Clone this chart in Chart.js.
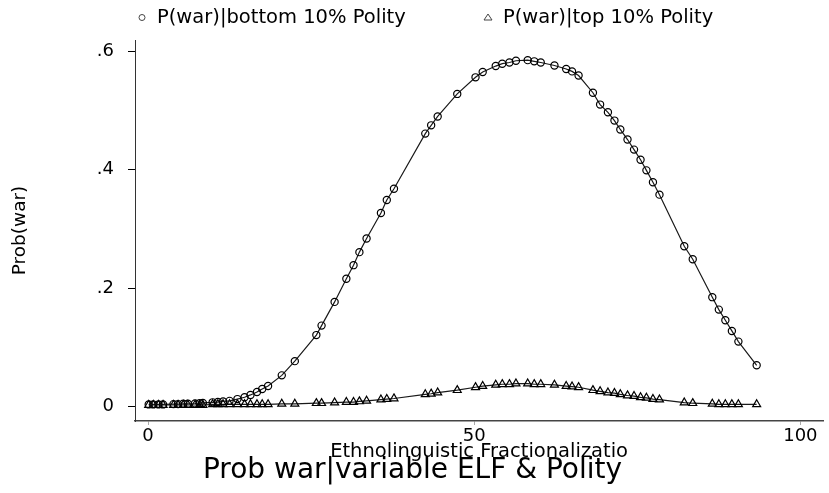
<!DOCTYPE html>
<html>
<head>
<meta charset="utf-8">
<title>Prob war|variable ELF &amp; Polity</title>
<script src="https://cdn.jsdelivr.net/npm/chart.js@4.4.1/dist/chart.umd.min.js"></script>
<style>
  html, body { margin: 0; padding: 0; background: #fff; }
  #wrap { width: 829px; height: 493px; }
</style>
</head>
<body>
<div id="wrap"><canvas id="warChart" width="829" height="493"></canvas></div>
<script>
// ELF value of each observation (shared by both series)
const elf = [0.1, 0.8, 1.6, 2.3, 3.9, 4.6, 5.4, 6.1, 7.2, 7.9, 8.4, 9.9, 10.7, 11.5, 12.5,
  13.7, 14.8, 15.7, 16.7, 17.5, 18.4,
  20.5, 22.5, 25.8, 26.6, 28.6, 30.4, 31.5, 32.4, 33.5, 35.7, 36.6, 37.7,
  42.5, 43.4, 44.4, 47.4, 50.2, 51.3,
  53.3, 54.3, 55.4, 56.4, 58.2, 59.2, 60.2,
  62.3, 64.1, 65.0, 66.0,
  68.2, 69.3, 70.5, 71.5, 72.4, 73.5, 74.5, 75.5, 76.4, 77.4, 78.4,
  82.2, 83.5,
  86.5, 87.5, 88.5, 89.5, 90.5,
  93.3];

// P(war) | bottom 10% Polity  (circles)
const pBottom = [0.004, 0.004, 0.004, 0.004, 0.0045, 0.0045, 0.005, 0.005, 0.0055, 0.006, 0.0065, 0.0075, 0.008, 0.009, 0.010,
  0.013, 0.016, 0.020, 0.025, 0.030, 0.035,
  0.053, 0.077, 0.121, 0.137, 0.177, 0.216, 0.239, 0.261, 0.284, 0.327, 0.349, 0.368,
  0.461, 0.475, 0.490, 0.528, 0.556, 0.565,
  0.575, 0.579, 0.581, 0.584, 0.585, 0.583, 0.581,
  0.576, 0.570, 0.566, 0.559,
  0.530, 0.510, 0.497, 0.483, 0.468, 0.451, 0.434, 0.417, 0.399, 0.379, 0.358,
  0.271, 0.249,
  0.185, 0.164, 0.146, 0.128, 0.110,
  0.070];

// P(war) | top 10% Polity  (triangles)
const pTop = [0.003, 0.003, 0.003, 0.003, 0.003, 0.003, 0.003, 0.003, 0.003, 0.003, 0.003, 0.004, 0.004, 0.004, 0.004,
  0.004, 0.004, 0.004, 0.004, 0.004, 0.004,
  0.005, 0.005, 0.006, 0.006, 0.007, 0.008, 0.008, 0.009, 0.010, 0.012, 0.013, 0.014,
  0.021, 0.022, 0.024, 0.028, 0.033, 0.035,
  0.037, 0.038, 0.038, 0.039, 0.039, 0.038, 0.038,
  0.037, 0.035, 0.034, 0.033,
  0.028, 0.026, 0.024, 0.023, 0.021, 0.019, 0.018, 0.016, 0.015, 0.013, 0.012,
  0.007, 0.006,
  0.005, 0.004, 0.004, 0.004, 0.004,
  0.004];

const xTicks = [0, 50, 100];
const yTicks = [0, 0.2, 0.4, 0.6];
const yTickLabels = ['0', '.2', '.4', '.6'];
const seriesNames = ['P(war)|bottom 10% Polity', 'P(war)|top 10% Polity'];

const fontFamily = 'DejaVu Sans';
const ink = '#000';

const toPoints = ys => elf.map((x, i) => ({ x: x, y: ys[i] }));

// legend sits across the top, Stata style
const topLegend = {
  id: 'topLegend',
  afterDraw(chart) {
    const ctx = chart.ctx;
    const y = 17.5;
    ctx.save();
    ctx.font = '19.5px "' + fontFamily + '"';
    ctx.fillStyle = ink;
    ctx.strokeStyle = '#444';
    ctx.lineWidth = 1;
    ctx.textBaseline = 'middle';

    ctx.beginPath();
    ctx.arc(142, y, 3, 0, Math.PI * 2);
    ctx.stroke();
    ctx.fillText(seriesNames[0], 157, y);

    ctx.beginPath();
    ctx.moveTo(488, y - 3.5);
    ctx.lineTo(484, y + 2.5);
    ctx.lineTo(492, y + 2.5);
    ctx.closePath();
    ctx.stroke();
    ctx.fillText(seriesNames[1], 503, y);
    ctx.restore();
  }
};

new Chart(document.getElementById('warChart'), {
  type: 'scatter',
  data: {
    datasets: [
      {
        label: seriesNames[0],
        data: toPoints(pBottom),
        showLine: true,
        borderColor: '#1a1a1a',
        borderWidth: 1.2,
        pointStyle: 'circle',
        pointRadius: 3.6,
        pointBorderColor: ink,
        pointBackgroundColor: 'rgba(255,255,255,0)',
        pointBorderWidth: 1.2
      },
      {
        label: seriesNames[1],
        data: toPoints(pTop),
        showLine: true,
        borderColor: '#1a1a1a',
        borderWidth: 1.2,
        pointStyle: 'triangle',
        pointRadius: 4.6,
        pointBorderColor: ink,
        pointBackgroundColor: 'rgba(255,255,255,0)',
        pointBorderWidth: 1.2
      }
    ]
  },
  options: {
    responsive: false,
    animation: false,
    layout: { padding: { top: 40, right: 4, left: 0, bottom: 0 } },
    plugins: {
      legend: { display: false },
      tooltip: { enabled: false },
      title: {
        display: true,
        position: 'bottom',
        text: 'Prob war|variable ELF & Polity',
        color: ink,
        font: { family: fontFamily, size: 28, weight: 'normal', lineHeight: 0.5 },
        padding: { top: 7, bottom: 15.4 }
      }
    },
    scales: {
      x: {
        type: 'linear',
        min: -2,
        max: 103.5,
        afterFit: s => { s.height = 35.6; },
        afterBuildTicks: s => { s.ticks = xTicks.map(v => ({ value: v })); },
        ticks: {
          color: ink,
          font: { family: fontFamily, size: 18 },
          padding: 1,
          maxRotation: 0,
          callback: v => String(v)
        },
        grid: { drawOnChartArea: false, tickLength: 4, color: '#aaa' },
        border: { color: '#444', width: 1.5 },
        title: {
          display: true,
          text: 'Ethnolinguistic Fractionalizatio',
          color: ink,
          font: { family: fontFamily, size: 19.5, lineHeight: 0.5 },
          padding: { top: 0, bottom: 0 }
        }
      },
      y: {
        min: -0.024,
        max: 0.619,
        afterFit: s => { s.width = 135; },
        afterBuildTicks: s => { s.ticks = yTicks.map(v => ({ value: v })); },
        ticks: {
          color: ink,
          font: { family: fontFamily, size: 18 },
          padding: 14,
          callback: (v, i) => yTickLabels[i]
        },
        grid: { drawOnChartArea: false, tickLength: 7, color: ink },
        border: { color: '#333', width: 1, dash: [2, 3] },
        title: {
          display: true,
          text: 'Prob(war)',
          color: ink,
          font: { family: fontFamily, size: 18.5, lineHeight: 1 },
          padding: { top: 10.75, bottom: 0 }
        }
      }
    }
  },
  plugins: [topLegend]
});
</script>
</body>
</html>
